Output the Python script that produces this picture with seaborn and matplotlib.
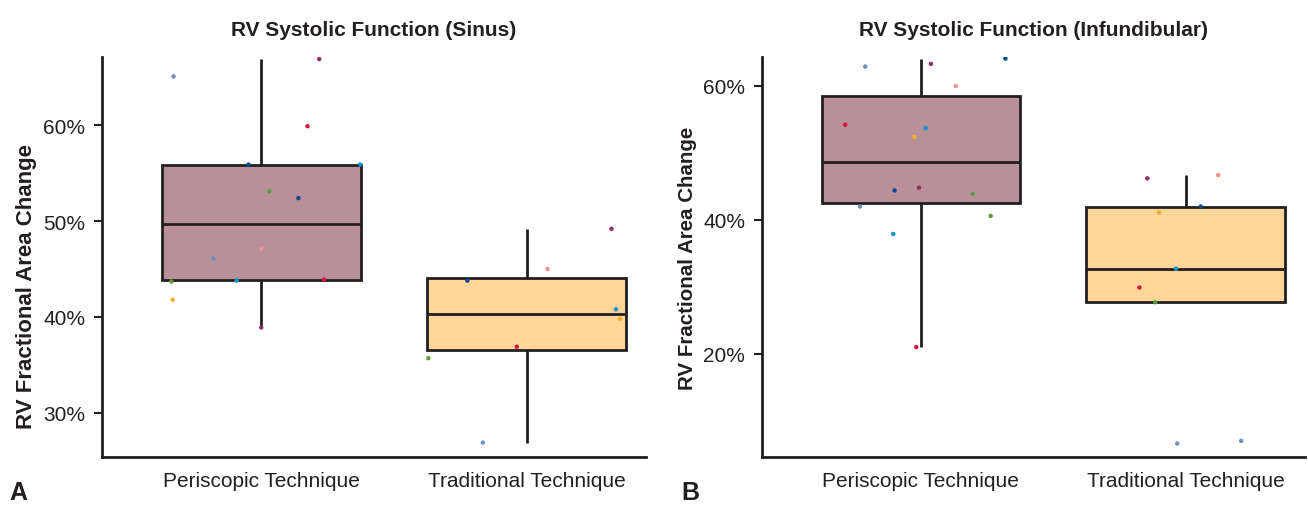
import numpy as np
import pandas as pd
import matplotlib
matplotlib.use("Agg")
import matplotlib.pyplot as plt
import seaborn as sns
from matplotlib.ticker import PercentFormatter

# values, in percent, one entry per patient
groups = ["Periscopic Technique", "Traditional Technique"]
peri_sinus = [65.1, 66.9, 55.9, 59.9, 55.9, 53.1, 47.1, 41.8, 46.1, 38.9, 52.4, 43.9, 43.8, 43.7]
trad_sinus = [26.9, 49.2, 43.8, 36.9, 40.8, 35.7, 45.0, 39.8, np.nan]
peri_infund = [62.9, 63.3, 64.1, 54.2, 53.7, 43.9, 60.0, 52.4, 42.0, 44.8, 44.4, 21.0, 37.9, 40.6]
trad_infund = [7.0, 46.2, 42.0, 29.9, 32.7, 27.7, 46.7, 41.1, 6.6]

point_colors = ["#6f8fc0", "#8b3262", "#0b4a8a", "#d7143f",
                "#0a92d2", "#5e9e3a", "#f0918a", "#f8ab2c"]
box_colors = ["#b98f99", "#fdd698"]
edge = "#231f20"


def make_frame(peri, trad):
    rows = []
    for grp, vals in zip(groups, [peri, trad]):
        for i, v in enumerate(vals):
            rows.append({"group": grp, "value": v, "patient": i % len(point_colors)})
    return pd.DataFrame(rows).dropna()


sns.set_style("ticks")
plt.rcParams["font.family"] = ["Liberation Sans", "DejaVu Sans"]

fig = plt.figure(figsize=(13.08, 5.06), dpi=100)
ax1 = fig.add_axes([0.078, 0.095, 0.416, 0.79])
ax2 = fig.add_axes([0.5826, 0.095, 0.415, 0.79])

panels = [
    (ax1, make_frame(peri_sinus, trad_sinus), "RV Systolic Function (Sinus)", (25.4, 67.1), [30, 40, 50, 60], 16, 0.43),
    (ax2, make_frame(peri_infund, trad_infund), "RV Systolic Function (Infundibular)", (4.6, 64.3), [20, 40, 60], 14.8, 0.5),
]

np.random.seed(7)
for ax, df, title, ylim, yticks, lab_size, lab_y in panels:
    sns.boxplot(data=df, x="group", y="value", hue="group", palette=box_colors,
                order=groups, hue_order=groups, width=0.75, whis=1.4,
                showfliers=False, showcaps=False, linecolor=edge, linewidth=2,
                saturation=1, legend=False, ax=ax)
    sns.stripplot(data=df, x="group", y="value", hue="patient", palette=point_colors,
                  order=groups, jitter=0.39, size=3.2, linewidth=0, legend=False, ax=ax)
    ax.set_xlim(-0.6, 1.45)
    ax.set_ylim(*ylim)
    ax.set_yticks(yticks)
    ax.yaxis.set_major_formatter(PercentFormatter(xmax=100, decimals=0))
    ax.set_title(title, fontsize=15, fontweight="bold", pad=16, color="#231f20")
    ax.set_xlabel("")
    ax.set_ylabel("RV Fractional Area Change", fontsize=lab_size, fontweight="bold",
                  color="#231f20")
    ax.yaxis.set_label_coords(-0.12, lab_y)
    ax.tick_params(axis="y", length=6, width=1.5, pad=6, labelsize=15, colors="#231f20")
    ax.tick_params(axis="x", length=0, pad=10, labelsize=15, colors="#231f20")
    for side in ["left", "bottom"]:
        ax.spines[side].set_linewidth(2)
        ax.spines[side].set_color(edge)
    sns.despine(ax=ax)

fig.text(0.007, 0.012, "A", fontsize=18, fontweight="bold", color="#231f20")
fig.text(0.521, 0.012, "B", fontsize=18, fontweight="bold", color="#231f20")

fig.savefig("out.png", dpi=100)
